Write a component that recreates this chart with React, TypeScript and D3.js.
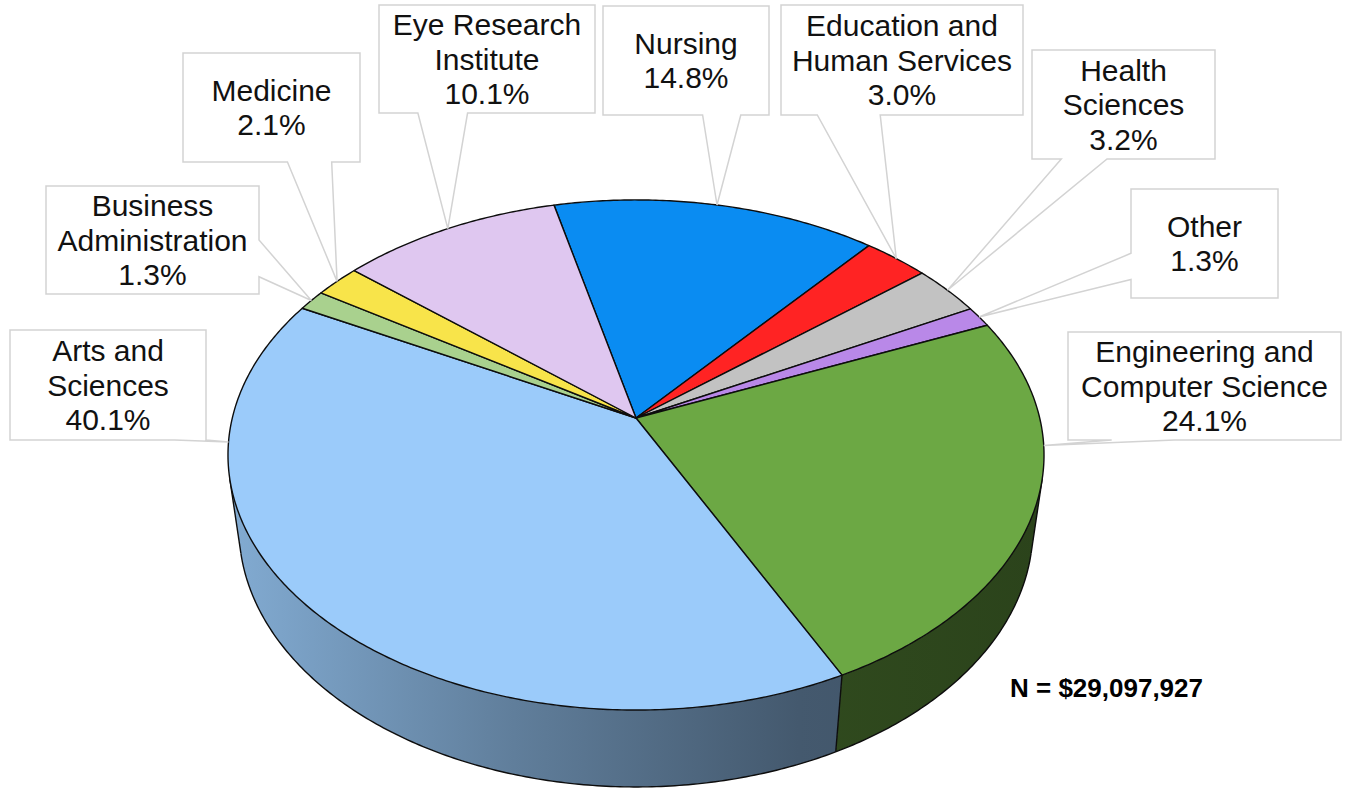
import * as d3 from 'd3';

// shares of the total, clockwise from the top of the pie
const categories = [
  'Nursing',
  'Education and Human Services',
  'Health Sciences',
  'Other',
  'Engineering and Computer Science',
  'Arts and Sciences',
  'Business Administration',
  'Medicine',
  'Eye Research Institute',
];
const shares = [14.8, 3.0, 3.2, 1.3, 24.1, 40.1, 1.3, 2.1, 10.1];
const labelLines = [
  ['Nursing'],
  ['Education and', 'Human Services'],
  ['Health', 'Sciences'],
  ['Other'],
  ['Engineering and', 'Computer Science'],
  ['Arts and', 'Sciences'],
  ['Business', 'Administration'],
  ['Medicine'],
  ['Eye Research', 'Institute'],
];
const colors = ['#0A8CF2', '#FF2323', '#C2C2C2', '#B988E8', '#6CA844', '#9BCBFA', '#A9D18E', '#F8E44A', '#DFC7F0'];
const totalText = 'N = $29,097,927';

// callout boxes (layout only)
const boxes = [
  { x: 603, y: 6, w: 166, h: 109, side: 'bottom', base: [0.6, 0.83] },
  { x: 781, y: 5, w: 242, h: 110, side: 'bottom', base: [0.15, 0.41] },
  { x: 1032, y: 50, w: 183, h: 109, side: 'bottom', base: [0.16, 0.41] },
  { x: 1131, y: 189, w: 147, h: 109, side: 'left', base: [0.59, 0.83] },
  { x: 1068, y: 332, w: 273, h: 108, side: 'bottom', base: [0.16, 0.39] },
  { x: 10, y: 330, w: 196, h: 110, side: 'bottom', base: [0.84, 1] },
  { x: 46, y: 186, w: 213, h: 108, side: 'right', base: [0.5, 0.84] },
  { x: 183, y: 53, w: 177, h: 109, side: 'bottom', base: [0.59, 0.84] },
  { x: 379, y: 5, w: 216, h: 108, side: 'bottom', base: [0.18, 0.41] },
];

const W = 1346;
const H = 790;

// perspective of the tilted disc
const CX = 636;
const CY = 418;
const G = 403.7; // horizontal scale
const S = 249.7; // vertical scale
const K = 0.145; // perspective strength
const THICK = 0.239; // side height, in radii
const SIN_A = S / G;
const COS_A = Math.sqrt(1 - SIN_A * SIN_A);
const DIST = COS_A / K;

type Pt = [number, number];

function project(phi: number, z: number): Pt {
  const X = Math.sin(phi);
  const Y = -Math.cos(phi);
  const den = 1 - K * Y - (SIN_A / DIST) * z;
  return [CX + (G * X) / den, CY + (S * Y - G * COS_A * z) / den];
}

function arcPts(a0: number, a1: number, z: number): Pt[] {
  const n = Math.max(2, Math.ceil(Math.abs(a1 - a0) / 0.01));
  return d3.range(n + 1).map((i) => project(a0 + ((a1 - a0) * i) / n, z));
}

const line = d3.line<Pt>();

// the side is seen where its outward normal faces the camera
const sideMin = Math.acos(-1 / (DIST * COS_A));
const sideMax = 2 * Math.PI - sideMin;

function shade(c: string, f: number) {
  const r = d3.rgb(c);
  return d3.rgb(r.r * f, r.g * f, r.b * f).formatHex();
}

function calloutPath(b: (typeof boxes)[number], tip: Pt) {
  const { x, y, w, h } = b;
  const [f0, f1] = b.base;
  const t = `${tip[0]},${tip[1]}`;
  if (b.side === 'bottom') {
    const b0 = x + w * f0;
    const b1 = x + w * f1;
    return `M${x},${y}H${x + w}V${y + h}H${b1}L${t}L${b0},${y + h}H${x}Z`;
  }
  if (b.side === 'right') {
    const b0 = y + h * f0;
    const b1 = y + h * f1;
    return `M${x},${y}H${x + w}V${b0}L${t}L${x + w},${b1}V${y + h}H${x}Z`;
  }
  const b0 = y + h * f0;
  const b1 = y + h * f1;
  return `M${x},${y}H${x + w}V${y + h}H${x}V${b1}L${t}L${x},${b0}Z`;
}

function anchorOf(b: (typeof boxes)[number]): Pt {
  const m = (b.base[0] + b.base[1]) / 2;
  if (b.side === 'bottom') return [b.x + b.w * m, b.y + b.h];
  if (b.side === 'right') return [b.x + b.w, b.y + b.h * m];
  return [b.x, b.y + b.h * m];
}

export default function App() {
  const start = (-13.4 * Math.PI) / 180;
  const arcs = d3
    .pie<number>()
    .sort(null)
    .value((d) => d)
    .startAngle(start)
    .endAngle(start + 2 * Math.PI)(shares);

  const leftX = project(sideMin + (sideMax - sideMin), 0)[0];
  const rightX = project(sideMin, 0)[0];
  const fmt = d3.format('.1f');

  const sides = arcs
    .map((a, i) => ({ a, i, a0: Math.max(a.startAngle, sideMin), a1: Math.min(a.endAngle, sideMax) }))
    .filter((s) => s.a1 > s.a0);

  // edges of the visible side
  const edgeLines: Pt[][] = [];
  edgeLines.push(arcPts(sideMin, sideMax, -THICK));
  const cuts = [sideMin, sideMax, ...arcs.map((a) => a.startAngle).filter((t) => t > sideMin && t < sideMax)];
  cuts.forEach((t) => edgeLines.push([project(t, 0), project(t, -THICK)]));

  const tips: Pt[] = arcs.map((a, i) => {
    const mid = (a.startAngle + a.endAngle) / 2;
    if (shares[i] < 20) return project(mid, 0);
    const span = a.endAngle - a.startAngle;
    const pts = arcPts(a.startAngle + span * 0.2, a.endAngle - span * 0.2, 0);
    const an = anchorOf(boxes[i]);
    return d3.least(pts, (p) => Math.hypot(p[0] - an[0], p[1] - an[1])) as Pt;
  });

  const fontSize = 30;
  const lh = 34.5;

  return (
    <svg
      width={W}
      height={H}
      viewBox={`0 0 ${W} ${H}`}
      style={{ position: 'absolute', left: 0, top: 0, background: '#fff' }}
      fontFamily="'Liberation Sans', Arial, sans-serif"
    >
      <defs>
        {sides.map((s) => (
          <linearGradient key={s.i} id={`side-${s.i}`} gradientUnits="userSpaceOnUse" x1={leftX} x2={rightX} y1={0} y2={0}>
            <stop offset="0" stopColor={shade(colors[s.i], 0.84)} />
            <stop offset="0.35" stopColor={shade(colors[s.i], 0.62)} />
            <stop offset="0.7" stopColor={shade(colors[s.i], 0.44)} />
            <stop offset="1" stopColor={shade(colors[s.i], 0.4)} />
          </linearGradient>
        ))}
      </defs>
      <rect width={W} height={H} fill="#fff" />

      <g>
        {sides.map((s) => (
          <path
            key={s.i}
            d={line([...arcPts(s.a0, s.a1, 0), ...arcPts(s.a0, s.a1, -THICK).reverse()]) + 'Z'}
            fill={`url(#side-${s.i})`}
          />
        ))}
        {edgeLines.map((pts, j) => (
          <path key={j} d={line(pts) as string} fill="none" stroke="#0d0d0d" strokeWidth={1.4} />
        ))}
      </g>

      <g>
        {arcs.map((a, i) => (
          <path
            key={categories[i]}
            d={line([[CX, CY], ...arcPts(a.startAngle, a.endAngle, 0)]) + 'Z'}
            fill={colors[i]}
            stroke="#0d0d0d"
            strokeWidth={1.4}
            strokeLinejoin="round"
          />
        ))}
      </g>

      <g>
        {boxes.map((b, i) => {
          const lines = [...labelLines[i], `${fmt(shares[i])}%`];
          const cy = b.y + b.h / 2;
          return (
            <g key={categories[i]}>
              <path d={calloutPath(b, tips[i])} fill="#fff" stroke="#d3d3d3" strokeWidth={1.5} />
              {lines.map((t, j) => (
                <text
                  key={j}
                  x={b.x + b.w / 2}
                  y={cy + (j - (lines.length - 1) / 2) * lh + 10.7}
                  textAnchor="middle"
                  fontSize={fontSize}
                  fill="#111"
                >
                  {t}
                </text>
              ))}
            </g>
          );
        })}
      </g>

      <text x={1010} y={697} fontSize={26} fontWeight="bold" fill="#000">
        {totalText}
      </text>
    </svg>
  );
}
